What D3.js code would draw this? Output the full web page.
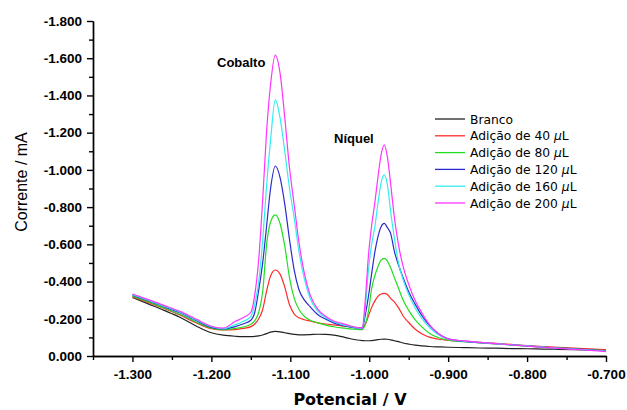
<!DOCTYPE html>
<html>
<head>
<meta charset="utf-8">
<script src="https://cdn.jsdelivr.net/npm/d3@7"></script>
<style>
  body { margin: 0; background: #fff; }
  svg { display: block; }
</style>
</head>
<body>
<div id="figure-holder"></div>
<script>
// potential (V)
const potencial = [-1.300, -1.280, -1.260, -1.240, -1.220, -1.200, -1.185, -1.170, -1.160, -1.150,
  -1.145, -1.140, -1.135, -1.130, -1.125, -1.119, -1.113, -1.107, -1.101, -1.095,
  -1.089, -1.082, -1.075, -1.065, -1.055, -1.045, -1.035, -1.025, -1.015, -1.009,
  -1.005, -1.001, -0.997, -0.993, -0.989, -0.985, -0.981, -0.977, -0.973, -0.968,
  -0.963, -0.957, -0.950, -0.942, -0.933, -0.923, -0.912, -0.900,
  -0.880, -0.860, -0.840, -0.820, -0.800, -0.780, -0.760, -0.740, -0.720, -0.700];

// current (mA), one array per curve
const branco = [-0.315, -0.280, -0.245, -0.208, -0.163, -0.125, -0.112, -0.106, -0.104, -0.104,
  -0.105, -0.108, -0.113, -0.120, -0.128, -0.132, -0.130, -0.125, -0.120, -0.116,
  -0.114, -0.114, -0.115, -0.117, -0.116, -0.112, -0.104, -0.094, -0.086, -0.083,
  -0.082, -0.082, -0.083, -0.085, -0.088, -0.090, -0.091, -0.090, -0.087, -0.082,
  -0.077, -0.070, -0.064, -0.058, -0.054, -0.051, -0.049, -0.047,
  -0.045, -0.043, -0.042, -0.040, -0.039, -0.037, -0.036, -0.034, -0.032, -0.030];
const adicao40 = [-0.318, -0.288, -0.255, -0.220, -0.180, -0.147, -0.140, -0.142, -0.148, -0.158,
  -0.172, -0.200, -0.250, -0.350, -0.430, -0.462, -0.440, -0.370, -0.275, -0.225,
  -0.205, -0.195, -0.188, -0.178, -0.172, -0.167, -0.162, -0.157, -0.153, -0.152,
  -0.170, -0.215, -0.260, -0.295, -0.320, -0.333, -0.337, -0.330, -0.310, -0.290,
  -0.260, -0.215, -0.180, -0.145, -0.118, -0.100, -0.090, -0.084,
  -0.080, -0.074, -0.068, -0.062, -0.056, -0.051, -0.046, -0.042, -0.038, -0.034];
const adicao80 = [-0.322, -0.292, -0.258, -0.224, -0.184, -0.150, -0.141, -0.148, -0.156, -0.170,
  -0.190, -0.235, -0.345, -0.600, -0.720, -0.758, -0.712, -0.590, -0.420, -0.310,
  -0.250, -0.212, -0.192, -0.178, -0.166, -0.157, -0.151, -0.146, -0.143, -0.141,
  -0.170, -0.240, -0.360, -0.430, -0.480, -0.515, -0.525, -0.510, -0.475, -0.420,
  -0.365, -0.300, -0.245, -0.195, -0.155, -0.120, -0.098, -0.085,
  -0.077, -0.071, -0.065, -0.059, -0.053, -0.048, -0.043, -0.038, -0.033, -0.029];
const adicao120 = [-0.327, -0.297, -0.265, -0.232, -0.192, -0.154, -0.145, -0.158, -0.172, -0.192,
  -0.235, -0.355, -0.500, -0.700, -0.900, -1.021, -0.960, -0.815, -0.626, -0.460,
  -0.356, -0.300, -0.265, -0.222, -0.198, -0.178, -0.165, -0.156, -0.149, -0.146,
  -0.220, -0.320, -0.440, -0.555, -0.640, -0.695, -0.713, -0.690, -0.660, -0.560,
  -0.490, -0.420, -0.345, -0.280, -0.215, -0.160, -0.118, -0.092,
  -0.079, -0.072, -0.066, -0.060, -0.054, -0.048, -0.043, -0.038, -0.033, -0.028];
const adicao160 = [-0.330, -0.300, -0.268, -0.236, -0.196, -0.157, -0.147, -0.168, -0.185, -0.212,
  -0.280, -0.400, -0.620, -0.920, -1.160, -1.376, -1.280, -1.100, -0.900, -0.740,
  -0.560, -0.410, -0.310, -0.240, -0.206, -0.184, -0.170, -0.160, -0.151, -0.148,
  -0.260, -0.460, -0.600, -0.690, -0.820, -0.930, -0.973, -0.920, -0.780, -0.630,
  -0.500, -0.410, -0.330, -0.260, -0.200, -0.150, -0.113, -0.090,
  -0.080, -0.073, -0.066, -0.060, -0.054, -0.048, -0.042, -0.037, -0.032, -0.027];
const adicao200 = [-0.333, -0.303, -0.272, -0.240, -0.200, -0.160, -0.150, -0.185, -0.205, -0.235,
  -0.330, -0.520, -0.840, -1.210, -1.460, -1.617, -1.520, -1.280, -1.010, -0.810,
  -0.610, -0.440, -0.330, -0.250, -0.212, -0.188, -0.175, -0.163, -0.153, -0.150,
  -0.300, -0.540, -0.700, -0.820, -0.960, -1.080, -1.134, -1.070, -0.930, -0.740,
  -0.600, -0.480, -0.385, -0.300, -0.230, -0.165, -0.120, -0.092,
  -0.081, -0.073, -0.066, -0.060, -0.053, -0.047, -0.041, -0.036, -0.030, -0.024];

const seriesNames = ['Branco', 'Adição de 40 ', 'Adição de 80 ', 'Adição de 120 ', 'Adição de 160 ', 'Adição de 200 '];
const seriesValues = [branco, adicao40, adicao80, adicao120, adicao160, adicao200];
const seriesColors = ['#222222', '#ff2a2a', '#22dd22', '#2b2bcc', '#33eeee', '#ff33ff'];

const xTicks = [-1.3, -1.2, -1.1, -1.0, -0.9, -0.8, -0.7];
const xMinorTicks = [-1.35, -1.25, -1.15, -1.05, -0.95, -0.85, -0.75];
const yTicks = [0, -0.2, -0.4, -0.6, -0.8, -1.0, -1.2, -1.4, -1.6, -1.8];
const yMinorTicks = [-0.1, -0.3, -0.5, -0.7, -0.9, -1.1, -1.3, -1.5, -1.7];

const peakLabels = [
  { text: 'Cobalto', x: 217, y: 67 },
  { text: 'Níquel', x: 334, y: 143 }
];

const W = 627, H = 410;
const plotLeft = 93, plotRight = 606, plotTop = 21, plotBottom = 356;

const svg = d3.select('#figure-holder').append('svg')
  .attr('width', W)
  .attr('height', H);

const x = d3.scaleLinear().domain([-1.35, -0.7]).range([plotLeft, plotRight]);
const y = d3.scaleLinear().domain([0, -1.8]).range([plotBottom, plotTop]);

const fmt = d => d.toFixed(3);

// x axis
svg.append('g')
  .attr('transform', `translate(0, ${plotBottom})`)
  .call(d3.axisBottom(x).tickValues(xTicks).tickFormat(fmt).tickSize(6).tickSizeOuter(0).tickPadding(7));
svg.append('g')
  .attr('transform', `translate(0, ${plotBottom})`)
  .call(d3.axisBottom(x).tickValues(xMinorTicks).tickFormat('').tickSize(4).tickSizeOuter(0));

// y axis
svg.append('g')
  .attr('transform', `translate(${plotLeft}, 0)`)
  .call(d3.axisLeft(y).tickValues(yTicks).tickFormat(fmt).tickSize(6).tickSizeOuter(0).tickPadding(5));
svg.append('g')
  .attr('transform', `translate(${plotLeft}, 0)`)
  .call(d3.axisLeft(y).tickValues(yMinorTicks).tickFormat('').tickSize(4).tickSizeOuter(0));

svg.selectAll('.domain, .tick line')
  .attr('stroke', '#000')
  .attr('stroke-width', 1.4);

svg.selectAll('.tick text')
  .style('font-family', '"Liberation Sans", Arial, sans-serif')
  .style('font-weight', 'bold')
  .style('font-size', '13.5px')
  .attr('fill', '#000');

// curves
const line = d3.line()
  .x((d, i) => x(potencial[i]))
  .y(d => y(d))
  .curve(d3.curveMonotoneX);

svg.append('g')
  .selectAll('path')
  .data(seriesValues)
  .join('path')
  .attr('d', d => line(d))
  .attr('fill', 'none')
  .attr('stroke', (d, i) => seriesColors[i])
  .attr('stroke-width', 1.2);

// peak labels
svg.selectAll('.peak')
  .data(peakLabels)
  .join('text')
  .attr('class', 'peak')
  .attr('x', d => d.x)
  .attr('y', d => d.y)
  .text(d => d.text)
  .style('font-family', '"Liberation Sans", Arial, sans-serif')
  .style('font-weight', 'bold')
  .style('font-size', '13px');

// legend
const legend = svg.append('g');
seriesNames.forEach((name, i) => {
  const ly = 119 + i * 16.8;
  legend.append('line')
    .attr('x1', 435).attr('x2', 465)
    .attr('y1', ly).attr('y2', ly)
    .attr('stroke', seriesColors[i])
    .attr('stroke-width', 1.3);
  const t = legend.append('text')
    .attr('x', 470)
    .attr('y', ly + 4.5)
    .style('font-family', '"DejaVu Sans", Verdana, sans-serif')
    .style('font-size', '12.3px')
    .text(name);
  if (i > 0) {
    t.append('tspan').style('font-style', 'italic').text('μ');
    t.append('tspan').text('L');
  }
});

// axis titles
svg.append('text')
  .attr('transform', `translate(27, 182) rotate(-90)`)
  .attr('text-anchor', 'middle')
  .style('font-family', '"Liberation Sans", Arial, sans-serif')
  .style('font-size', '16px')
  .text('Corrente / mA');

svg.append('text')
  .attr('x', 350)
  .attr('y', 405)
  .attr('text-anchor', 'middle')
  .style('font-family', '"DejaVu Sans", Verdana, sans-serif')
  .style('font-weight', 'bold')
  .style('font-size', '16px')
  .text('Potencial / V');
</script>
</body>
</html>
